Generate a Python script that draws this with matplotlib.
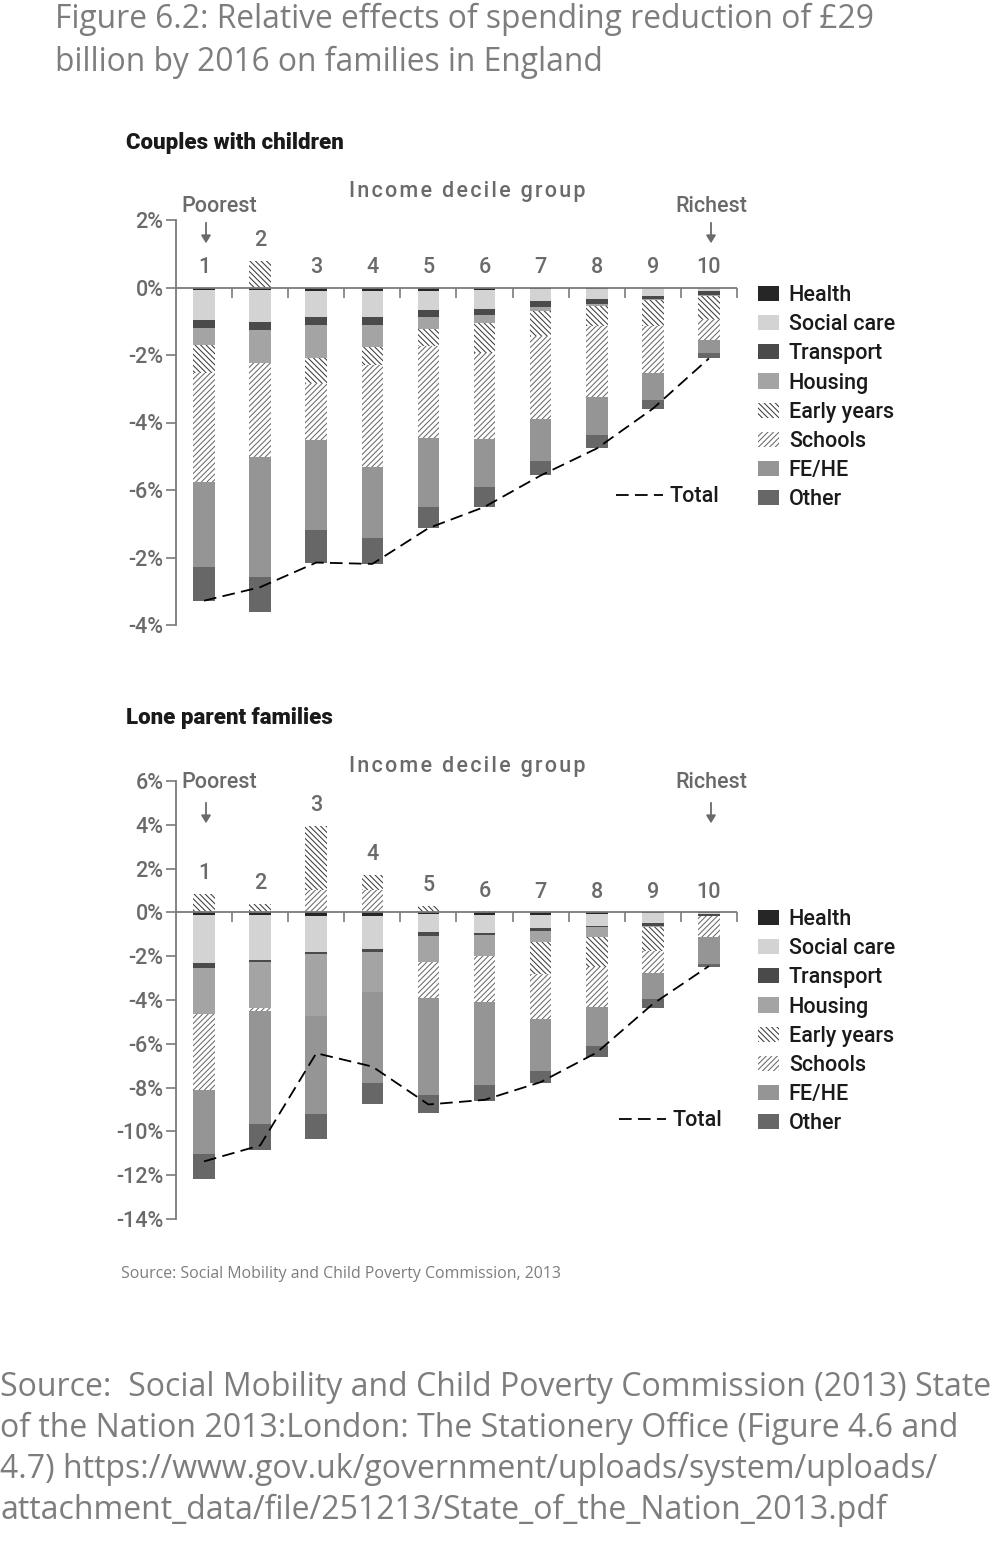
import numpy as np
import matplotlib.pyplot as plt
from matplotlib.lines import Line2D
from matplotlib.patches import FancyArrowPatch

# dados (pontos percentuais, magnitude das reduções)
deciles = np.arange(1, 11)
categorias = ['Health', 'Social care', 'Transport', 'Housing', 'Early years', 'Schools', 'FE/HE', 'Other']

# casais com filhos
cc_health = [0.08, 0.08, 0.10, 0.10, 0.10, 0.08, 0.05, 0.05, 0.02, 0.02]
cc_social = [0.88, 0.94, 0.77, 0.77, 0.58, 0.56, 0.34, 0.30, 0.23, 0.08]
cc_transport = [0.24, 0.23, 0.24, 0.24, 0.20, 0.18, 0.19, 0.15, 0.08, 0.11]
cc_housing = [0.50, 0.98, 0.99, 0.64, 0.36, 0.22, 0.11, 0.05, 0.04, 0.04]
cc_early = [0.82, 0.00, 0.72, 0.55, 0.49, 0.89, 0.75, 0.59, 0.77, 0.69]
cc_schools = [3.25, 2.80, 1.69, 3.03, 2.73, 2.57, 2.47, 2.11, 1.38, 0.61]
cc_fehe = [2.50, 3.55, 2.67, 2.10, 2.04, 1.41, 1.22, 1.12, 0.80, 0.40]
cc_other = [1.01, 1.02, 0.97, 0.76, 0.63, 0.59, 0.44, 0.40, 0.27, 0.15]
cc_early_pos = [0, 0.79, 0, 0, 0, 0, 0, 0, 0, 0]
cc_schools_pos = [0, 0, 0, 0, 0, 0, 0, 0, 0, 0]
cc_total = [-9.28, -8.88, -8.15, -8.19, -7.13, -6.50, -5.57, -4.77, -3.59, -2.10]

# famílias monoparentais
lp_health = [0.12, 0.11, 0.18, 0.18, 0.08, 0.10, 0.10, 0.06, 0.02, 0.03]
lp_social = [2.19, 2.06, 1.64, 1.49, 0.83, 0.84, 0.63, 0.55, 0.47, 0.06]
lp_transport = [0.24, 0.11, 0.06, 0.12, 0.18, 0.08, 0.11, 0.07, 0.12, 0.06]
lp_housing = [2.09, 2.07, 2.86, 1.86, 1.16, 0.96, 0.53, 0.43, 0.07, 0.00]
lp_early = [0, 0, 0, 0, 0, 0, 1.44, 1.40, 1.07, 0]
lp_schools = [3.49, 0.16, 0, 0, 1.67, 2.09, 2.05, 1.79, 1.02, 0.99]
lp_fehe = [2.89, 5.14, 4.45, 4.13, 4.44, 3.79, 2.36, 1.82, 1.18, 1.22]
lp_other = [1.14, 1.19, 1.14, 0.99, 0.80, 0.73, 0.58, 0.49, 0.43, 0.12]
lp_early_pos = [0.84, 0.38, 2.95, 0.72, 0.30, 0.05, 0, 0, 0, 0]
lp_schools_pos = [0, 0, 1.00, 1.00, 0, 0, 0, 0, 0, 0]
lp_total = [-11.37, -10.64, -6.43, -7.04, -8.77, -8.56, -7.75, -6.40, -4.18, -2.45]

cc_ticks = [2, 0, -2, -4, -6, -8, -10]
cc_ticklabels = ['2%', '0%', '-2%', '-4%', '-6%', '-2%', '-4%']
lp_ticks = [6, 4, 2, 0, -2, -4, -6, -8, -10, -12, -14]
lp_ticklabels = ['6%', '4%', '2%', '0%', '-2%', '-4%', '-6%', '-8%', '-10%', '-12%', '-14%']

# estilos
cores = ['#262626', '#d3d3d3', '#4a4a4a', '#a4a4a4', 'white', 'white', '#959595', '#676767']
hachuras = [None, None, None, None, '\\' * 6, '/' * 6, None, None]
cor_hachura = ['none', 'none', 'none', 'none', '#3c3c3c', '#6a6a6a', 'none', 'none']
cinza = '#6a6a6a'
fs = 15.5
plt.rcParams['hatch.linewidth'] = 0.75
plt.rcParams['font.family'] = ['Roboto', 'DejaVu Sans']

W, H = 1000, 1546
fig = plt.figure(figsize=(W / 100, H / 100), dpi=100)


def fx(x):
    return x / W


def fy(y):
    return 1 - y / H


def painel(rect, negs, early_pos, schools_pos, total, ticks, ticklabels, ylim,
           titulo, y_titulo, y_income, y_pr, y_arrow, y_leg, total_pos):
    ax = fig.add_axes(rect)
    barras = []
    base = np.zeros(10)
    for nome, vals, c, h, hc in zip(categorias, negs, cores, hachuras, cor_hachura):
        vals = np.array(vals)
        b = ax.bar(deciles, -vals, bottom=base, width=0.385, color=c, hatch=h,
                   edgecolor=hc, linewidth=0, label=nome)
        barras.append(b)
        base = base - vals
    pos = np.zeros(10)
    for vals, i in [(schools_pos, 5), (early_pos, 4)]:
        vals = np.array(vals)
        ax.bar(deciles, vals, bottom=pos, width=0.385, color='white', hatch=hachuras[i],
               edgecolor=cor_hachura[i], linewidth=0)
        pos = pos + vals
    ax.plot(deciles, total, color='black', lw=1.3, dashes=(7, 3.5))

    # eixo do zero com marcas entre as barras
    ax.axhline(0, color='#7a7a7a', lw=1.3, zorder=3)
    ax.plot(np.arange(1.5, 11, 1), np.zeros(10), ls='none', marker=3, ms=7,
            mew=1.2, color='#7a7a7a', clip_on=False, zorder=3)

    for d, p in zip(deciles, pos):
        ax.annotate(str(d), xy=(d, p), xytext=(0, 7), textcoords='offset points',
                    ha='center', va='bottom', fontsize=fs, color=cinza, fontweight='medium')

    ax.set_xlim(0.5, 10.5)
    ax.set_ylim(*ylim)
    ax.set_yticks(ticks)
    ax.set_yticklabels(ticklabels)
    ax.set_xticks([])
    for s in ['top', 'right', 'bottom']:
        ax.spines[s].set_visible(False)
    ax.spines['left'].set_color('#7a7a7a')
    ax.spines['left'].set_linewidth(1.3)
    ax.tick_params(axis='y', length=7, width=1.2, color='#7a7a7a', labelsize=fs,
                   labelcolor=cinza, pad=2)
    for t in ax.get_yticklabels():
        t.set_fontweight('medium')

    fig.text(fx(126), fy(y_titulo), titulo, fontsize=16, fontweight='black',
             color='#1a1a1a', va='center', ha='left')
    fig.text(fx(467), fy(y_income), '\u200a'.join('Income decile group'),
             fontsize=fs, color=cinza, ha='center', va='center', fontweight='medium')
    fig.text(fx(219), fy(y_pr), 'Poorest', fontsize=fs, color=cinza, ha='center',
             va='center', fontweight='medium')
    fig.text(fx(711), fy(y_pr), 'Richest', fontsize=fs, color=cinza, ha='center',
             va='center', fontweight='medium')
    for xa in [206, 711]:
        fig.add_artist(FancyArrowPatch(
            (fx(xa), fy(y_arrow)), (fx(xa), fy(y_arrow + 26)), transform=fig.transFigure,
            arrowstyle='-|>,head_length=4.5,head_width=2.8', color=cinza, lw=1.3))

    leg = fig.legend(handles=barras, labels=categorias, loc='upper left',
                     bbox_to_anchor=(fx(758), fy(y_leg)), frameon=False, fontsize=fs,
                     handlelength=0.98, handleheight=0.7, handletextpad=0.45,
                     labelspacing=0.38, borderpad=0, borderaxespad=0)
    for t in leg.get_texts():
        t.set_color('#1a1a1a')
        t.set_fontweight('medium')
    ax.legend(handles=[Line2D([], [], color='black', lw=1.3, dashes=(7, 3.5))], labels=['Total'],
              loc='center left', bbox_to_anchor=(fx(total_pos[0]), fy(total_pos[1])),
              bbox_transform=fig.transFigure, frameon=False, fontsize=fs,
              handlelength=2.2, handletextpad=0.3, borderpad=0, borderaxespad=0)
    for t in ax.get_legend().get_texts():
        t.set_color('#1a1a1a')
        t.set_fontweight('medium')
    return ax


ax1 = painel([fx(176), fy(625), fx(737) - fx(176), fy(220) - fy(625)],
             [cc_health, cc_social, cc_transport, cc_housing, cc_early, cc_schools, cc_fehe, cc_other],
             cc_early_pos, cc_schools_pos, cc_total, cc_ticks, cc_ticklabels, (-10, 2),
             'Couples with children', 143, 192, 207, 220, 285, (616, 497))

ax2 = painel([fx(176), fy(1219), fx(737) - fx(176), fy(781) - fy(1219)],
             [lp_health, lp_social, lp_transport, lp_housing, lp_early, lp_schools, lp_fehe, lp_other],
             lp_early_pos, lp_schools_pos, lp_total, lp_ticks, lp_ticklabels, (-14, 6),
             'Lone parent families', 718, 767, 782, 800, 909, (619, 1121))

cinza_txt = '#7d7d7d'
fig.text(fx(55), fy(41), 'Figure 6.2: Relative effects of spending reduction of £29\n'
         'billion by 2016 on families in England', fontsize=22.9, color=cinza_txt,
         family=['Open Sans', 'DejaVu Sans'], ha='left', va='center', linespacing=1.38)
fig.text(fx(121), fy(1274), 'Source: Social Mobility and Child Poverty Commission, 2013',
         fontsize=11.4, color=cinza_txt, family=['Open Sans', 'DejaVu Sans'], ha='left', va='center')
fig.text(fx(0), fy(1449), 'Source:  Social Mobility and Child Poverty Commission (2013) State\n'
         'of the Nation 2013:London: The Stationery Office (Figure 4.6 and\n'
         '4.7) https://www.gov.uk/government/uploads/system/uploads/\n'
         'attachment_data/file/251213/State_of_the_Nation_2013.pdf',
         fontsize=23.0, color=cinza_txt, family=['Open Sans', 'DejaVu Sans'], ha='left',
         va='center', linespacing=1.32)

fig.savefig('out.png', dpi=100)
